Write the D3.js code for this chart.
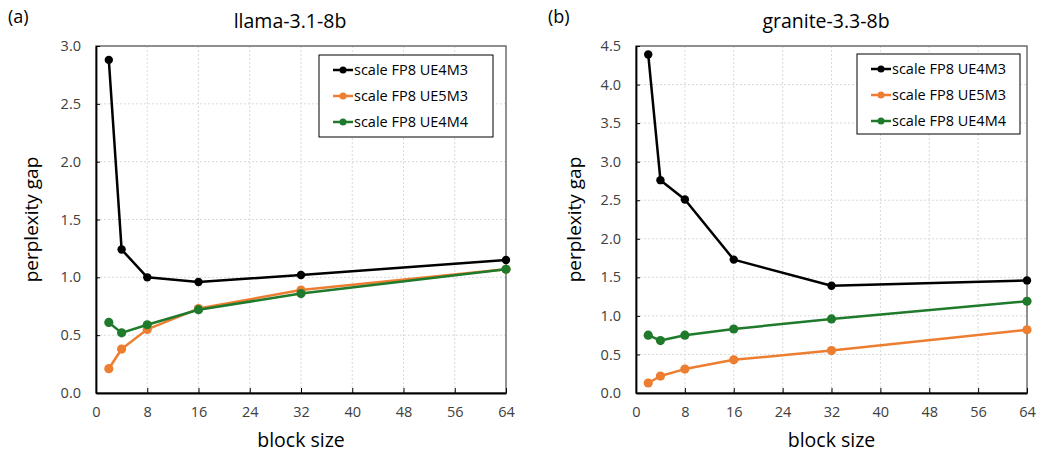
<!DOCTYPE html>
<html>
<head>
<meta charset="utf-8">
<script src="https://cdn.jsdelivr.net/npm/d3@7"></script>
<style>
  body { margin: 0; background: #fff; }
  svg text { font-family: "Open Sans", "Noto Sans", sans-serif; }
</style>
</head>
<body>
<div id="chart"></div>
<script>
// block sizes shared by both panels
const blockSizes = [2, 4, 8, 16, 32, 64];
const xTicks = [0, 8, 16, 24, 32, 40, 48, 56, 64];
const seriesNames = ["scale FP8 UE4M3", "scale FP8 UE5M3", "scale FP8 UE4M4"];
const seriesColors = ["#000000", "#ed7d31", "#1f7a2c"];

// panel (a) llama-3.1-8b
const llamaUE4M3 = [2.88, 1.24, 1.00, 0.96, 1.02, 1.15];
const llamaUE5M3 = [0.21, 0.38, 0.55, 0.73, 0.89, 1.07];
const llamaUE4M4 = [0.61, 0.52, 0.59, 0.72, 0.86, 1.07];
const llamaYTicks = [0.0, 0.5, 1.0, 1.5, 2.0, 2.5, 3.0];

// panel (b) granite-3.3-8b
const graniteUE4M3 = [4.39, 2.76, 2.51, 1.73, 1.39, 1.46];
const graniteUE5M3 = [0.13, 0.22, 0.31, 0.43, 0.55, 0.82];
const graniteUE4M4 = [0.75, 0.68, 0.75, 0.83, 0.96, 1.19];
const graniteYTicks = [0.0, 0.5, 1.0, 1.5, 2.0, 2.5, 3.0, 3.5, 4.0, 4.5];

const width = 1039, height = 453;

const svg = d3.select("#chart")
  .append("svg")
  .attr("width", width)
  .attr("height", height);

function drawPanel(opts) {
  const g = svg.append("g");
  const left = opts.left, right = opts.right, top = 46, bottom = 393;

  let xScale = d3.scaleLinear().domain([0, 64]).range([left, right]);
  let yScale = d3.scaleLinear()
    .domain([0, d3.max(opts.yTicks)])
    .range([bottom, top]);

  // dotted grid
  g.append("g").selectAll("line")
    .data(opts.yTicks.slice(1))
    .enter().append("line")
    .attr("x1", left).attr("x2", right)
    .attr("y1", d => yScale(d)).attr("y2", d => yScale(d))
    .attr("stroke", "#d9d9d9").attr("stroke-dasharray", "2,2");
  g.append("g").selectAll("line")
    .data(xTicks.slice(1, -1))
    .enter().append("line")
    .attr("x1", d => xScale(d)).attr("x2", d => xScale(d))
    .attr("y1", top).attr("y2", bottom)
    .attr("stroke", "#d9d9d9").attr("stroke-dasharray", "2,2");

  // plot border (top / right)
  g.append("rect")
    .attr("x", left).attr("y", top)
    .attr("width", right - left).attr("height", bottom - top)
    .attr("fill", "none").attr("stroke", "#6e6e6e").attr("stroke-width", 1.5);

  // x axis: ticks pointing inward
  const xAxis = g.append("g")
    .attr("transform", `translate(0,${bottom})`)
    .call(d3.axisBottom(xScale).tickValues(xTicks).tickSizeInner(-5).tickSizeOuter(0).tickPadding(14));
  xAxis.select(".domain").attr("stroke", "#000").attr("stroke-width", 1.8);
  xAxis.selectAll(".tick line").attr("stroke", "#000");
  xAxis.selectAll("text").attr("font-size", "14.5px").attr("fill", "#404040");

  // y axis, also inward ticks
  const yAxis = g.append("g")
    .attr("transform", `translate(${left},0)`)
    .call(d3.axisLeft(yScale).tickValues(opts.yTicks).tickFormat(d3.format(".1f")).tickSizeInner(-4).tickSizeOuter(0).tickPadding(15));
  yAxis.select(".domain").attr("stroke", "#000").attr("stroke-width", 1.8);
  yAxis.selectAll(".tick line").attr("stroke", "#000");
  yAxis.selectAll("text").attr("font-size", "14.5px").attr("fill", "#404040");

  // lines + markers
  const line = d3.line()
    .x((d, i) => xScale(blockSizes[i]))
    .y(d => yScale(d));

  opts.series.forEach((vals, k) => {
    g.append("path")
      .datum(vals)
      .attr("d", line)
      .attr("fill", "none")
      .attr("stroke", seriesColors[k])
      .attr("stroke-width", 2.5)
      .attr("stroke-linejoin", "round");
    g.append("g").selectAll("circle")
      .data(vals)
      .enter().append("circle")
      .attr("cx", (d, i) => xScale(blockSizes[i]))
      .attr("cy", d => yScale(d))
      .attr("r", k === 0 ? 4.2 : 4.6)
      .attr("fill", seriesColors[k]);
  });

  // titles and labels
  svg.append("text")
    .attr("x", opts.panelX).attr("y", 23)
    .attr("font-size", "18px").attr("fill", "#000")
    .text(opts.panel);
  svg.append("text")
    .attr("x", opts.titleX).attr("y", 28)
    .attr("text-anchor", "middle")
    .attr("font-size", "19.5px").attr("fill", "#000")
    .text(opts.title);
  svg.append("text")
    .attr("x", (left + right) / 2).attr("y", 447)
    .attr("text-anchor", "middle")
    .attr("font-size", "19.5px").attr("fill", "#000")
    .text("block size");
  svg.append("text")
    .attr("transform", `translate(${opts.yLabelX},${(top + bottom) / 2}) rotate(-90)`)
    .attr("text-anchor", "middle")
    .attr("font-size", "19px").attr("fill", "#000")
    .text("perplexity gap");

  // legend
  const lg = g.append("g").attr("transform", `translate(${opts.legend[0]},${opts.legend[1]})`);
  lg.append("rect")
    .attr("width", opts.legend[2]).attr("height", opts.legend[3])
    .attr("fill", "#fff").attr("stroke", "#000").attr("stroke-width", 1);
  seriesNames.forEach((name, k) => {
    const yy = 15 + k * 26;
    lg.append("line")
      .attr("x1", 14).attr("x2", 34).attr("y1", yy).attr("y2", yy)
      .attr("stroke", seriesColors[k]).attr("stroke-width", 2.5);
    lg.append("circle")
      .attr("cx", 24).attr("cy", yy).attr("r", 3.5)
      .attr("fill", seriesColors[k]);
    lg.append("text")
      .attr("x", 35).attr("y", yy + 5)
      .attr("font-size", "14.5px").attr("fill", "#000")
      .text(name);
  });
}

drawPanel({
  left: 96, right: 506,
  yTicks: llamaYTicks,
  series: [llamaUE4M3, llamaUE5M3, llamaUE4M4],
  panel: "(a)", panelX: 8,
  title: "llama-3.1-8b", titleX: 290,
  yLabelX: 38,
  legend: [319, 55, 174, 82]
});

drawPanel({
  left: 636, right: 1027,
  yTicks: graniteYTicks,
  series: [graniteUE4M3, graniteUE5M3, graniteUE4M4],
  panel: "(b)", panelX: 548,
  title: "granite-3.3-8b", titleX: 826,
  yLabelX: 581,
  legend: [857, 54, 163, 80]
});
</script>
</body>
</html>
